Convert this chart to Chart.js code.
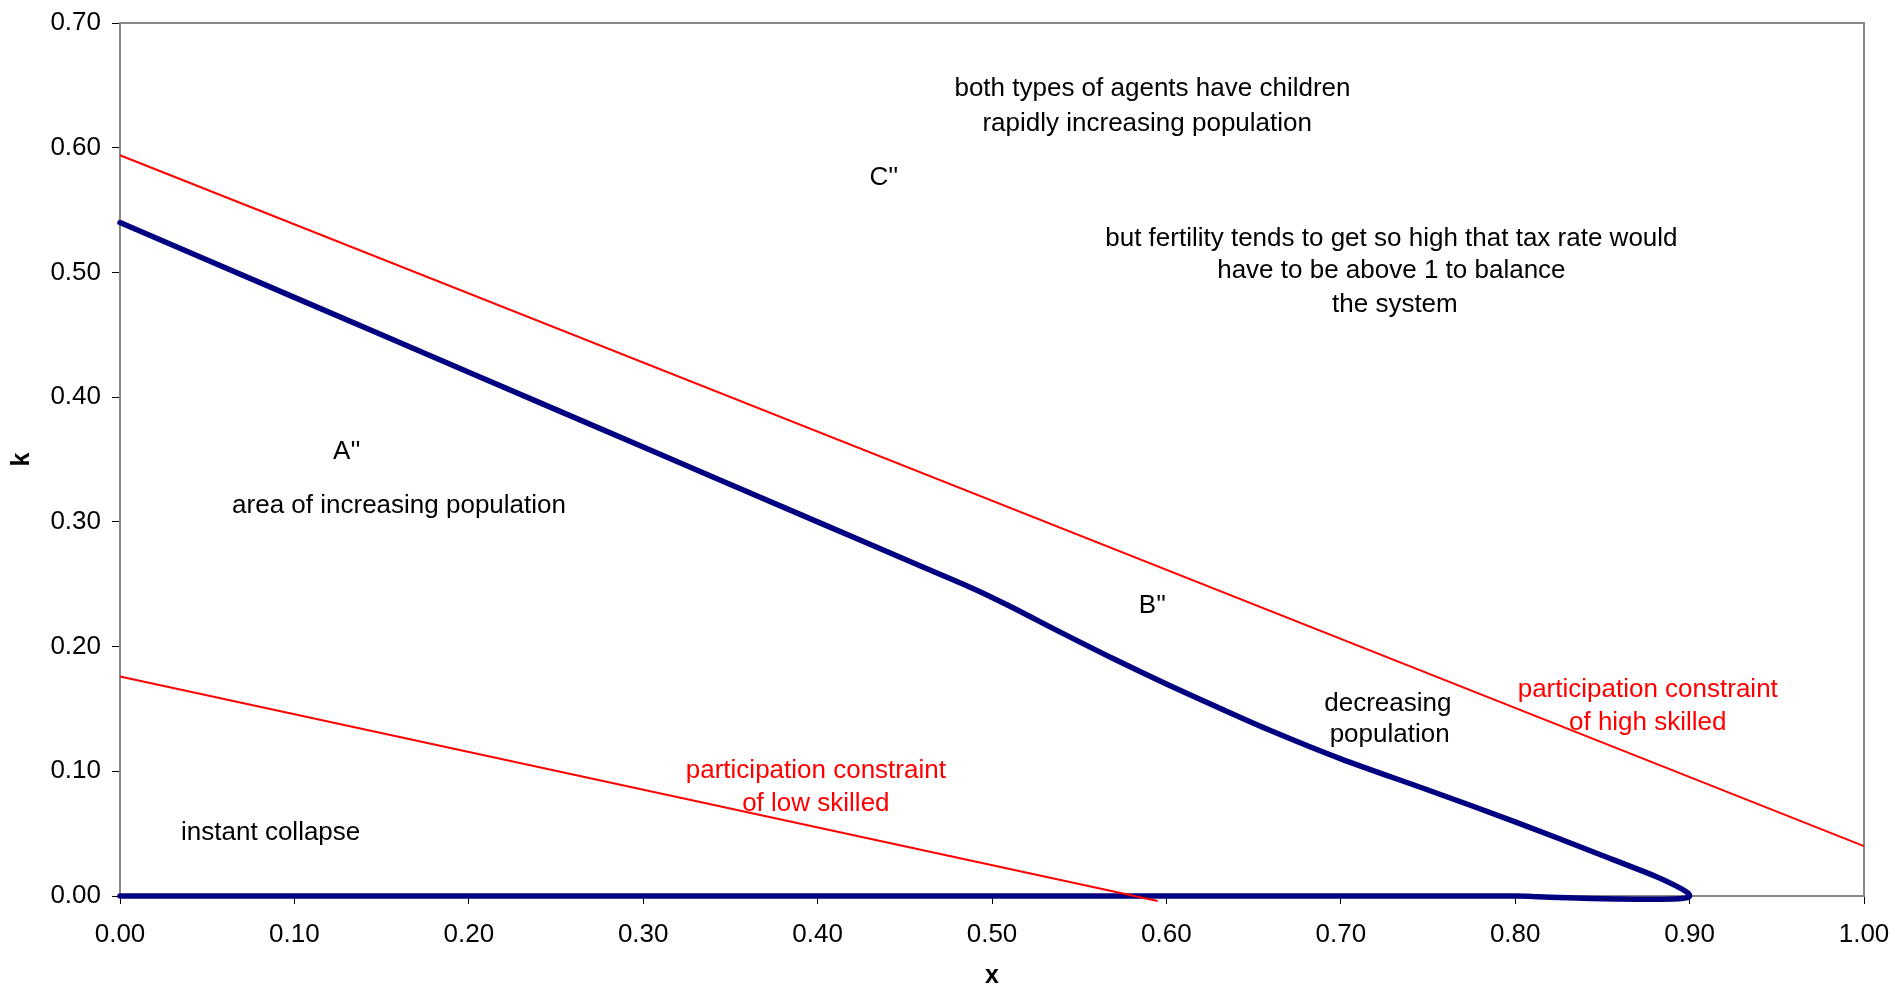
<!DOCTYPE html>
<html>
<head>
<meta charset="utf-8">
<title>k vs x</title>
<script src="https://cdn.jsdelivr.net/npm/chart.js@4.4.1/dist/chart.umd.min.js"></script>
<style>
    html, body { margin: 0; padding: 0; background: #fff; }
    #chart { display: block; }
</style>
</head>
<body>
<canvas id="chart" width="1895" height="991"></canvas>
<script>
// threshold curve (navy), in drawing order
const curveX = [0, 0.10, 0.20, 0.30, 0.40, 0.46, 0.49, 0.51, 0.54, 0.57, 0.60, 0.63, 0.66, 0.70,
                0.75, 0.80, 0.85, 0.88, 0.893, 0.899, 0.900,
                0.898, 0.89, 0.86, 0.83, 0.81, 0.80, 0];
const curveK = [0.540, 0.480, 0.420, 0.360, 0.300, 0.264, 0.246, 0.2325, 0.211, 0.190, 0.170, 0.151, 0.1325, 0.110,
                0.085, 0.0595, 0.0325, 0.016, 0.0075, 0.0025, 0.000,
                -0.0015, -0.0025, -0.0025, -0.0015, -0.0004, 0, 0];

// participation constraints (red)
const highSkilledX = [0, 1.0];
const highSkilledK = [0.594, 0.040];
const lowSkilledX = [0, 0.595];
const lowSkilledK = [0.176, -0.004];

const xTicks = [0, 0.1, 0.2, 0.3, 0.4, 0.5, 0.6, 0.7, 0.8, 0.9, 1.0];
const kTicks = [0, 0.1, 0.2, 0.3, 0.4, 0.5, 0.6, 0.7];

// text notes inside the plot, placed in data units
const notes = [
    { text: 'both types of agents have children', x: 0.592, k: 0.649, color: '#000' },
    { text: 'rapidly increasing population', x: 0.589, k: 0.621, color: '#000' },
    { text: "C''", x: 0.438, k: 0.578, color: '#000' },
    { text: 'but fertility tends to get so high that tax rate would', x: 0.729, k: 0.529, color: '#000' },
    { text: 'have to be above 1 to balance', x: 0.729, k: 0.503, color: '#000' },
    { text: 'the system', x: 0.731, k: 0.476, color: '#000' },
    { text: "A''", x: 0.130, k: 0.358, color: '#000' },
    { text: 'area of increasing population', x: 0.160, k: 0.315, color: '#000' },
    { text: "B''", x: 0.592, k: 0.235, color: '#000' },
    { text: 'decreasing', x: 0.727, k: 0.156, color: '#000' },
    { text: 'population', x: 0.728, k: 0.131, color: '#000' },
    { text: 'participation constraint', x: 0.876, k: 0.167, color: '#ff0000' },
    { text: 'of high skilled', x: 0.876, k: 0.141, color: '#ff0000' },
    { text: 'participation constraint', x: 0.399, k: 0.102, color: '#ff0000' },
    { text: 'of low skilled', x: 0.399, k: 0.076, color: '#ff0000' },
    { text: 'instant collapse', x: 0.0864, k: 0.053, color: '#000' }
];

const FONT = 'Liberation Sans, Arial, sans-serif';

function toPoints(xs, ys) {
    return xs.map((x, i) => ({ x: x, y: ys[i] }));
}

// grey frame round the plot area, drawn under the lines
const framePlugin = {
    id: 'frame',
    beforeDatasetsDraw(chart) {
        const { ctx, chartArea: a } = chart;
        ctx.save();
        ctx.strokeStyle = '#888888';
        ctx.lineWidth = 2;
        ctx.strokeRect(a.left, a.top, a.right - a.left, a.bottom - a.top);
        ctx.restore();
    }
};

const notesPlugin = {
    id: 'notes',
    afterDatasetsDraw(chart) {
        const { ctx, scales } = chart;
        ctx.save();
        ctx.font = '26px ' + FONT;
        ctx.textAlign = 'center';
        ctx.textBaseline = 'middle';
        notes.forEach(n => {
            ctx.fillStyle = n.color;
            // 'middle' sits a little high for these glyphs, nudge down
            ctx.fillText(n.text, scales.x.getPixelForValue(n.x), scales.y.getPixelForValue(n.k) + 2.5);
        });
        ctx.restore();
    }
};

// keep the plot box where the layout padding puts it
function fixBox(scale, size) {
    if (scale.isHorizontal()) {
        scale.height = size;
    } else {
        scale.width = size;
    }
    scale.paddingLeft = 0;
    scale.paddingRight = 0;
    scale.paddingTop = 0;
    scale.paddingBottom = 0;
}

function loadChart() {
    const ctx = document.getElementById('chart').getContext('2d');
    new Chart(ctx, {
        type: 'scatter',
        data: {
            datasets: [
                {
                    label: 'participation constraint of high skilled',
                    data: toPoints(highSkilledX, highSkilledK),
                    showLine: true,
                    borderColor: '#ff0000',
                    borderWidth: 2,
                    pointRadius: 0,
                    clip: false
                },
                {
                    label: 'participation constraint of low skilled',
                    data: toPoints(lowSkilledX, lowSkilledK),
                    showLine: true,
                    borderColor: '#ff0000',
                    borderWidth: 2,
                    pointRadius: 0,
                    clip: false
                },
                {
                    label: 'k',
                    data: toPoints(curveX, curveK),
                    showLine: true,
                    borderColor: '#000080',
                    borderWidth: 5.5,
                    borderJoinStyle: 'round',
                    borderCapStyle: 'round',
                    pointRadius: 0,
                    tension: 0.3,
                    clip: false
                }
            ]
        },
        options: {
            responsive: false,
            animation: false,
            devicePixelRatio: 1,
            layout: { padding: { top: 23, right: 31, left: 0, bottom: 0 } },
            plugins: {
                legend: { display: false },
                tooltip: { enabled: false }
            },
            scales: {
                x: {
                    type: 'linear',
                    min: 0,
                    max: 1,
                    afterFit: scale => fixBox(scale, 95),
                    afterBuildTicks: scale => { scale.ticks = xTicks.map(v => ({ value: v })); },
                    ticks: {
                        callback: v => v.toFixed(2),
                        color: '#000',
                        font: { family: FONT, size: 26 },
                        padding: 15,
                        maxRotation: 0
                    },
                    grid: {
                        drawOnChartArea: false,
                        drawTicks: true,
                        tickLength: 8,
                        color: '#000',
                        lineWidth: 1
                    },
                    border: { display: true, color: '#000', width: 1.5 },
                    title: {
                        display: true,
                        text: 'x',
                        color: '#000',
                        font: { family: FONT, size: 25, weight: 'bold' },
                        padding: { top: 0, bottom: 0 }
                    }
                },
                y: {
                    type: 'linear',
                    min: 0,
                    max: 0.7,
                    afterFit: scale => fixBox(scale, 120),
                    afterBuildTicks: scale => { scale.ticks = kTicks.map(v => ({ value: v })); },
                    ticks: {
                        callback: v => v.toFixed(2),
                        color: '#000',
                        font: { family: FONT, size: 26 },
                        padding: 11
                    },
                    grid: {
                        drawOnChartArea: false,
                        drawTicks: true,
                        tickLength: 8,
                        color: '#000',
                        lineWidth: 1
                    },
                    border: { display: true, color: '#333', width: 2 },
                    title: {
                        display: true,
                        text: 'k',
                        color: '#000',
                        font: { family: FONT, size: 25, weight: 'bold' },
                        padding: { top: 7, bottom: 0 }
                    }
                }
            }
        },
        plugins: [framePlugin, notesPlugin]
    });
}

loadChart();
</script>
</body>
</html>
